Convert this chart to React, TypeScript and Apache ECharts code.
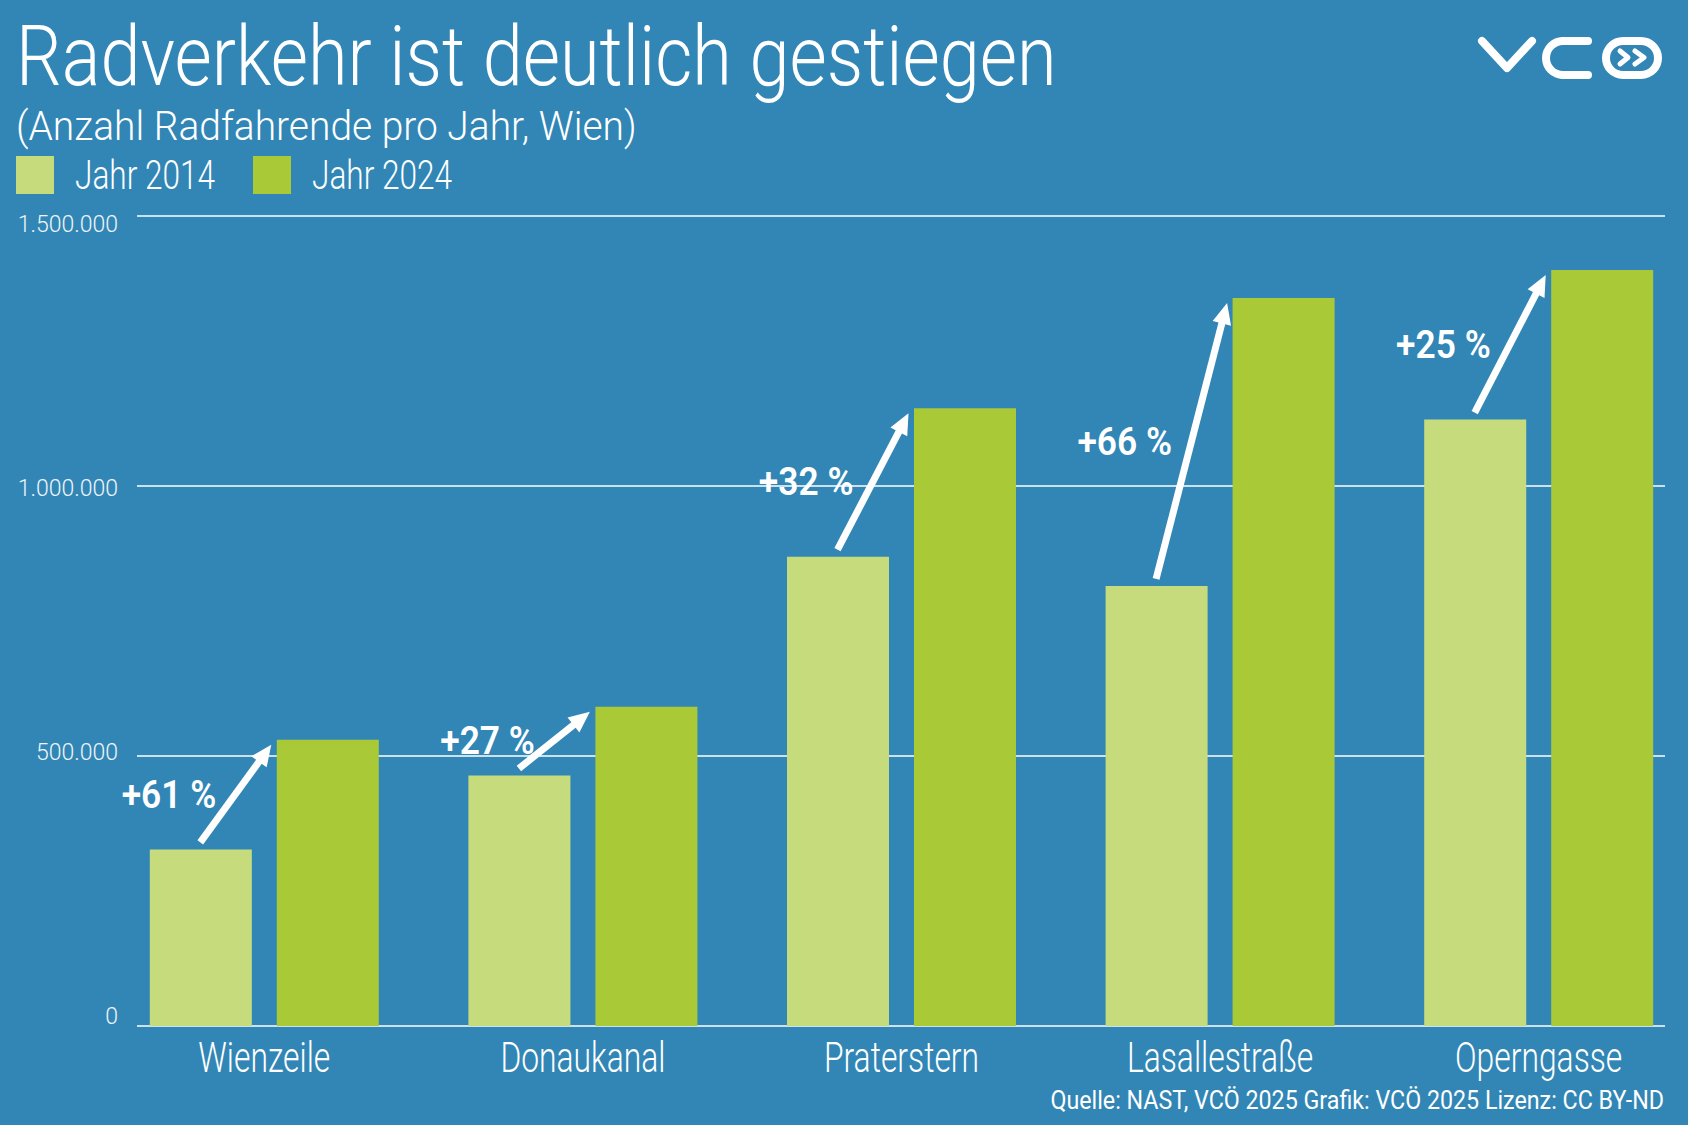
import React, { useEffect, useRef } from "react";
import * as echarts from "echarts";

const categories = ["Wienzeile", "Donaukanal", "Praterstern", "Lasallestraße", "Operngasse"];
const values2014 = [327000, 464000, 869000, 815000, 1123000];
const values2024 = [530000, 591000, 1144000, 1348000, 1400000];
const changeLabels = ["+61 %", "+27 %", "+32 %", "+66 %", "+25 %"];
const seriesNames = ["Jahr 2014", "Jahr 2024"];
const yTickValues = [0, 500000, 1000000, 1500000];
const titleText = "Radverkehr ist deutlich gestiegen";
const subtitleText = "(Anzahl Radfahrende pro Jahr, Wien)";
const footerText = "Quelle: NAST, VCÖ 2025 Grafik: VCÖ 2025 Lizenz: CC BY-ND";

const FONT = "Roboto, 'DejaVu Sans Condensed', sans-serif";
const BG = "#3186b6";
const C2014 = "#c6dc7c";
const C2024 = "#a9c937";
const WHITE = "#ffffff";

const fmt = (v: number) => String(v).replace(/\B(?=(\d{3})+(?!\d))/g, ".");

export default function App() {
  const ref = useRef<HTMLDivElement>(null);
  useEffect(() => {
    document.body.style.margin = "0";
    document.body.style.overflow = "hidden";
    document.documentElement.style.overflow = "hidden";
    if (!ref.current) return;
    const chart = echarts.init(ref.current, null, { renderer: "svg" });
    const yMax = yTickValues[yTickValues.length - 1];
    const yStep = yTickValues[1] - yTickValues[0];
    const seriesColors = [C2014, C2024];

    const legendGraphics: any[] = [];
    const legendX = [16, 253];
    seriesNames.forEach((name, k) => {
      legendGraphics.push({
        type: "rect",
        shape: { x: legendX[k], y: 156, width: 38, height: 38 },
        style: { fill: seriesColors[k] },
      });
      legendGraphics.push({
        type: "text",
        x: legendX[k] + 59,
        y: 176,
        scaleX: 0.79,
        style: { text: name, fill: WHITE, fontSize: 40, fontWeight: 300, fontFamily: FONT, verticalAlign: "middle" },
      });
    });

    const option: any = {
      animation: false,
      backgroundColor: BG,
      textStyle: { fontFamily: FONT },
      grid: [
        { left: 137, width: 1528, top: 216, height: 810 },
        { left: 105, width: 1593, top: 216, height: 810 },
        { left: 137, width: 1528, top: 224, height: 792 },
      ],
      xAxis: [
        { gridIndex: 0, type: "value", min: 0, max: 1, show: false },
        {
          gridIndex: 1,
          type: "category",
          data: categories,
          axisLine: { show: false },
          axisTick: { show: false },
          axisLabel: { show: false },
        },
        { gridIndex: 2, type: "value", min: 0, max: 1, show: false },
      ],
      yAxis: [
        {
          gridIndex: 0,
          type: "value",
          min: 0,
          max: yMax,
          interval: yStep,
          axisLabel: { show: false },
          axisLine: { show: false },
          axisTick: { show: false },
          splitLine: { lineStyle: { color: WHITE, width: 1.5 } },
        },
        { gridIndex: 1, type: "value", min: 0, max: yMax, interval: yStep, show: false },
        {
          gridIndex: 2,
          type: "value",
          min: 0,
          max: yMax,
          interval: yStep,
          axisLine: { show: false },
          axisTick: { show: false },
          splitLine: { show: false },
          axisLabel: { color: "#eef4f8", fontSize: 23, fontWeight: 300, fontFamily: FONT, margin: 19, formatter: fmt },
        },
      ],
      graphic: [
        {
          type: "text",
          x: 16,
          y: 57,
          scaleX: 0.868,
          style: { text: titleText, fill: WHITE, fontSize: 83, fontWeight: 300, fontFamily: FONT, verticalAlign: "middle" },
        },
        {
          type: "text",
          x: 16,
          y: 126,
          scaleX: 0.974,
          style: { text: subtitleText, fill: WHITE, fontSize: 40, fontWeight: 300, fontFamily: FONT, verticalAlign: "middle" },
        },
        ...legendGraphics,
        {
          type: "text",
          x: 1664,
          y: 1101,
          scaleX: 0.93,
          style: { text: footerText, fill: WHITE, fontSize: 25, fontWeight: 400, fontFamily: FONT, align: "right", verticalAlign: "middle" },
        },
        {
          type: "group",
          children: [
            {
              type: "polyline",
              shape: { points: [[1482, 41], [1507, 68], [1532, 41]] },
              style: { stroke: WHITE, lineWidth: 8, lineCap: "round", lineJoin: "round", fill: null },
            },
            {
              type: "arc",
              shape: { cx: 1563, cy: 58, r: 17, startAngle: Math.PI / 2, endAngle: (3 * Math.PI) / 2, clockwise: true },
              style: { stroke: WHITE, lineWidth: 8, fill: null },
            },
            {
              type: "line",
              shape: { x1: 1563, y1: 41, x2: 1588, y2: 41 },
              style: { stroke: WHITE, lineWidth: 8, lineCap: "round" },
            },
            {
              type: "line",
              shape: { x1: 1563, y1: 75, x2: 1588, y2: 75 },
              style: { stroke: WHITE, lineWidth: 8, lineCap: "round" },
            },
            {
              type: "rect",
              shape: { x: 1606, y: 41, width: 52, height: 34, r: 17 },
              style: { stroke: WHITE, lineWidth: 8, fill: null },
            },
            {
              type: "polyline",
              shape: { points: [[1620, 51], [1628, 57.5], [1620, 64]] },
              style: { stroke: WHITE, lineWidth: 5, lineCap: "round", lineJoin: "round", fill: null },
            },
            {
              type: "polyline",
              shape: { points: [[1635, 51], [1644, 57.5], [1635, 64]] },
              style: { stroke: WHITE, lineWidth: 5, lineCap: "round", lineJoin: "round", fill: null },
            },
          ],
        },
      ],
      series: [
        {
          type: "bar",
          name: seriesNames[0],
          xAxisIndex: 1,
          yAxisIndex: 1,
          data: values2014,
          barWidth: 102,
          barGap: "24.5%",
          itemStyle: { color: C2014 },
        },
        {
          type: "bar",
          name: seriesNames[1],
          xAxisIndex: 1,
          yAxisIndex: 1,
          data: values2024,
          barWidth: 102,
          barGap: "24.5%",
          itemStyle: { color: C2024 },
        },
        {
          type: "custom",
          xAxisIndex: 1,
          yAxisIndex: 1,
          clip: false,
          silent: true,
          z: 10,
          data: categories.map((_, i) => [i, values2014[i], values2024[i]]),
          renderItem: (params: any, api: any) => {
            const i = api.value(0) as number;
            const p1 = api.coord([i, api.value(1)]);
            const p2 = api.coord([i, api.value(2)]);
            const p0 = api.coord([i, 0]);
            const cx = p1[0];
            const tail = [cx - 64, p1[1] - 7];
            const tip = [cx + 7, p2[1] + 5];
            const dx = tip[0] - tail[0];
            const dy = tip[1] - tail[1];
            const len = Math.sqrt(dx * dx + dy * dy);
            const ux = dx / len;
            const uy = dy / len;
            const px = -uy;
            const py = ux;
            const headLen = 21;
            const headHalf = 9.5;
            const base = [tip[0] - ux * headLen, tip[1] - uy * headLen];
            return {
              type: "group",
              children: [
                {
                  type: "line",
                  shape: { x1: tail[0], y1: tail[1], x2: base[0] + ux * 2, y2: base[1] + uy * 2 },
                  style: { stroke: WHITE, lineWidth: 7 },
                },
                {
                  type: "polygon",
                  shape: {
                    points: [
                      tip,
                      [base[0] + px * headHalf, base[1] + py * headHalf],
                      [base[0] - px * headHalf, base[1] - py * headHalf],
                    ],
                  },
                  style: { fill: WHITE },
                },
                {
                  type: "text",
                  x: cx - 48,
                  y: (p1[1] + p2[1]) / 2,
                  scaleX: 0.93,
                  style: {
                    text: changeLabels[i],
                    x: 0,
                    y: 0,
                    align: "right",
                    verticalAlign: "middle",
                    fill: WHITE,
                    fontSize: 38,
                    fontWeight: 600,
                    fontFamily: FONT,
                  },
                },
                {
                  type: "text",
                  x: cx,
                  y: p0[1] + 31,
                  scaleX: 0.74,
                  style: {
                    text: categories[i],
                    x: 0,
                    y: 0,
                    align: "center",
                    verticalAlign: "middle",
                    fill: WHITE,
                    fontSize: 43,
                    fontWeight: 300,
                    fontFamily: FONT,
                  },
                },
              ],
            };
          },
        },
      ],
    };
    chart.setOption(option);
    return () => chart.dispose();
  }, []);
  return <div ref={ref} style={{ width: 1720, height: 1125, position: "absolute", left: 0, top: 0 }} />;
}
